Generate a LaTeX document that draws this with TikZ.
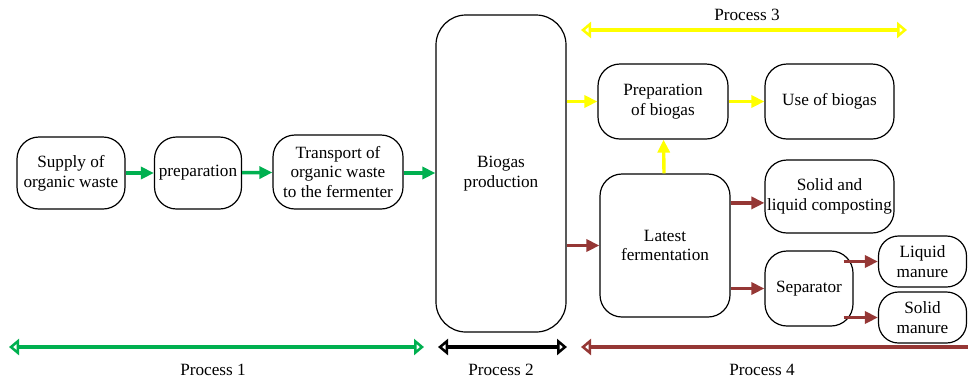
\documentclass[tikz,border=0pt]{standalone}
\usepackage{fontspec}
\setmainfont{Liberation Serif}
\usetikzlibrary{arrows.meta}
\definecolor{procgreen}{RGB}{0,176,80}
\definecolor{procyellow}{RGB}{255,255,0}
\definecolor{procbrown}{RGB}{149,55,53}

\begin{document}
\begin{tikzpicture}
	[x=0.5pt, y=-0.5pt, font=\fontsize{8.6}{9.8}\selectfont,
	every node/.style={draw, rounded corners=11pt, align=center, inner sep=1pt, line width=0.6pt},
	flow/.style={line width=1.7pt, -{Triangle[length=6.5pt,width=6pt]}},
	span/.style={line width=1.6pt, {Triangle[open,length=5pt,width=8pt]}-{Triangle[open,length=5pt,width=8pt]}},
	proctext/.style={draw=none}]
	\useasboundingbox (0,0) rectangle (968,382);
	% process 1
	\node (supply) [minimum width=54pt, minimum height=36pt] at (71,173) {Supply of\\organic waste};
	\node (prep) [minimum width=43.5pt, minimum height=36pt] at (198,173) {preparation};
	\node (transport) [minimum width=65pt, minimum height=37pt] at (338,172) {Transport of\\organic waste\\to the fermenter};
	% process 2
	\node (biogas) [rounded corners=15pt, minimum width=65pt, minimum height=158.5pt] at (501,173.5) {Biogas\\production};
	% process 3
	\node (prepgas) [minimum width=65pt, minimum height=37.5pt] at (663,101.5) {Preparation\\of biogas};
	\node (usegas) [minimum width=64.5pt, minimum height=37.5pt] at (829.5,101.5) {Use of biogas};
	% process 4
	\node (latest) [minimum width=65pt, minimum height=71.5pt] at (665,245.5) {Latest\\fermentation};
	\node (compost) [minimum width=64.5pt, minimum height=36.5pt] at (829.5,196.5) {Solid and\\liquid composting};
	\node (sep) [minimum width=44pt, minimum height=37.5pt] at (809,288.5) {Separator};
	\node (liquid) [rounded corners=10pt, minimum width=44pt, minimum height=25.5pt] at (922.5,261.5) {Liquid\\manure};
	\node (solid) [rounded corners=10pt, minimum width=44pt, minimum height=25.5pt] at (922.5,317.5) {Solid\\manure};

	\draw [flow, procgreen] (supply) -- (prep);
	\draw [flow, procgreen] (prep) -- (transport);
	\draw [flow, procgreen] (transport.east |- supply) -- (biogas.west |- supply);
	\draw [flow, procyellow] (biogas.east |- prepgas) -- (prepgas);
	\draw [flow, procyellow] (prepgas) -- (usegas);
	\draw [flow, procyellow] (latest) -- (prepgas);
	\draw [flow, procbrown] (biogas.east |- latest) -- (latest);
	\draw [flow, procbrown] (latest.33) -- (latest.33 -| compost.west);
	\draw [flow, procbrown] (latest.east |- sep) -- (sep);
	\draw [flow, procbrown, shorten <=-5pt] (sep.east |- liquid) -- (liquid);
	\draw [flow, procbrown, shorten <=-5pt] (sep.east |- solid) -- (solid);

	\coordinate (p1l) at (9,347);
	\coordinate (p1r) at (424,347);
	\coordinate (p2l) at (438,347);
	\coordinate (p2r) at (567,347);
	\coordinate (p3l) at (581,30);
	\coordinate (p3r) at (907,30);
	\coordinate (p4l) at (581,347);
	\coordinate (p4r) at (968,347);
	\draw [span, procgreen] (p1l) -- (p1r);
	\draw [span, black] (p2l) -- (p2r);
	\draw [span, procyellow] (p3l) -- (p3r);
	\draw [span, procbrown, {Triangle[open,length=5pt,width=8pt]}-] (p4l) -- (p4r);
	\node (proc1) [proctext] at (213,370) {Process 1};
	\node (proc2) [proctext] at (501,370) {Process 2};
	\node (proc3) [proctext] at (747,15) {Process 3};
	\node (proc4) [proctext] at (762,370) {Process 4};
\end{tikzpicture}
\end{document}
